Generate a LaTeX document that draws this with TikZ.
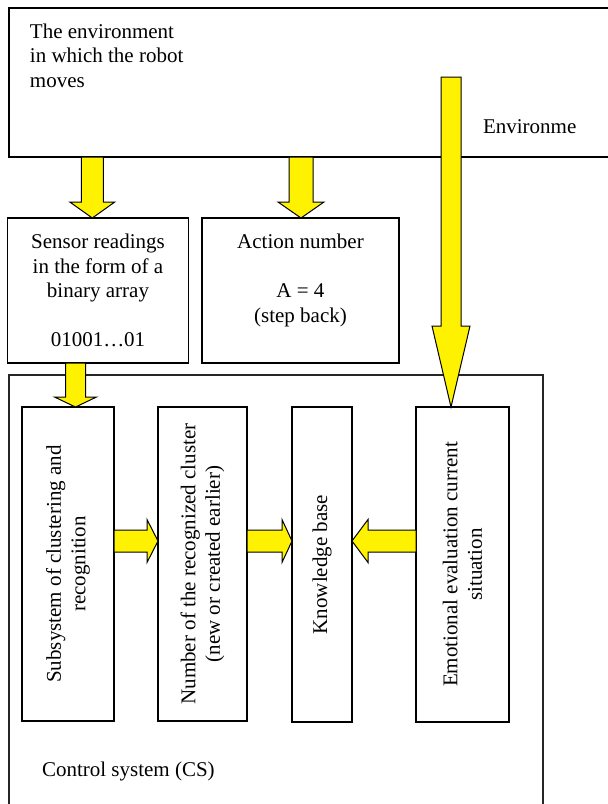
\documentclass[tikz,border=0pt]{standalone}
\usepackage{fontspec}
\setmainfont{Liberation Serif}
\usetikzlibrary{calc}
\tikzset{
  box/.style={draw=black, line width=1.5pt, anchor=north west, inner sep=0pt, outer sep=0pt},
  fat/.style={draw=black, fill=yellow, line width=1pt, line join=miter},
  txt/.style={inner sep=0pt, outer sep=0pt, font=\fontsize{21}{24.5}\selectfont},
}
% #1 start, #2 tip, #3 half shaft width, #4 half head width, #5 head length
\newcommand\fatarrow[5]{%
  \path coordinate (fa-hb) at ($(#2)!#5!(#1)$);
  \draw[fat] ($(#1)!#3!90:(#2)$) -- ($(fa-hb)!#3!-90:(#1)$) -- ($(fa-hb)!#4!-90:(#1)$)
    -- (#2) -- ($(fa-hb)!#4!90:(#1)$) -- ($(fa-hb)!#3!90:(#1)$) -- ($(#1)!#3!-90:(#2)$) -- cycle;}
\begin{document}
\begin{tikzpicture}[x=1pt,y=-1pt]
\useasboundingbox (0,0) rectangle (608,804);
\clip (0,0) rectangle (608,804);
\fill[white] (0,0) rectangle (608,804);

% boxes
\node[box, minimum width=621pt, minimum height=149pt] (env) at (9,8) {};
\node[box, minimum width=181pt, minimum height=145pt] (sensor) at (7.5,218) {};
\node[box, minimum width=197pt, minimum height=145pt] (action) at (202,218) {};
\node[box, line width=1.6pt, draw=black!85, minimum width=534pt, minimum height=460pt] (cs) at (9,375) {};
\node[box, minimum width=92pt, minimum height=314pt] (b1) at (22,407) {};
\node[box, minimum width=89pt, minimum height=314pt] (b2) at (158,407) {};
\node[box, minimum width=60pt, minimum height=315pt] (b3) at (292,407) {};
\node[box, minimum width=93pt, minimum height=315pt] (b4) at (416,407) {};

% texts
\node[txt, anchor=north west, align=left] (envtxt) at (30,23.5) {The environment\\in which the robot\\moves};
\node[txt, anchor=base west] (envlbl) at (483,133) {Environme};
\node[txt, anchor=north, align=center] (senstxt) at ($(sensor.north)+(0,16.3)$) {Sensor readings\\in the form of a\\binary array\\[24.5pt]01001…01};
\node[txt, anchor=north, align=center] (acttxt) at ($(action.north)+(0,16.3)$) {Action number\\[24.5pt]A = 4\\(step back)};
\node[txt, rotate=90, align=center] (t1) at (b1.center) {Subsystem of clustering and\\recognition};
\node[txt, rotate=90, align=center] (t2) at (b2.center) {Number of the recognized cluster\\(new or created earlier)};
\node[txt, rotate=90, align=center] (t3) at (b3.center) {Knowledge base};
\node[txt, rotate=90, align=center] (t4) at (b4.center) {Emotional evaluation current\\situation};
\node[txt, anchor=base west] (cstxt) at (42,776) {Control system (CS)};

% arrow positions
\coordinate (ax1) at (92.3,0);
\coordinate (ax2) at (301,0);
\coordinate (ax3) at (451,0);
\coordinate (ax4) at (75.5,0);
\coordinate (ay) at (0,541);
\coordinate (a3top) at (451,77);

\coordinate (s1) at (env.south -| ax1);
\coordinate (e1) at (sensor.north -| ax1);
\coordinate (s2) at (env.south -| ax2);
\coordinate (e2) at (action.north -| ax2);
\coordinate (e3) at (b4.north -| ax3);
\coordinate (s4) at (sensor.south -| ax4);
\coordinate (e4) at (b1.north -| ax4);
\coordinate (s5) at (b1.east |- ay);
\coordinate (e5) at (b2.west |- ay);
\coordinate (s6) at (b2.east |- ay);
\coordinate (e6) at (b3.west |- ay);
\coordinate (s7) at (b4.west |- ay);
\coordinate (e7) at (b3.east |- ay);

% arrows
\fatarrow{s1}{e1}{11pt}{22.5pt}{16pt}
\fatarrow{s2}{e2}{12pt}{23pt}{16pt}
\fatarrow{a3top}{e3}{10pt}{19pt}{81pt}
\fatarrow{s4}{e4}{10pt}{21pt}{10pt}
\fatarrow{s5}{e5}{11pt}{21.5pt}{11pt}
\fatarrow{s6}{e6}{11pt}{21.5pt}{10pt}
\fatarrow{s7}{e7}{11pt}{21.5pt}{16pt}
\end{tikzpicture}
\end{document}
